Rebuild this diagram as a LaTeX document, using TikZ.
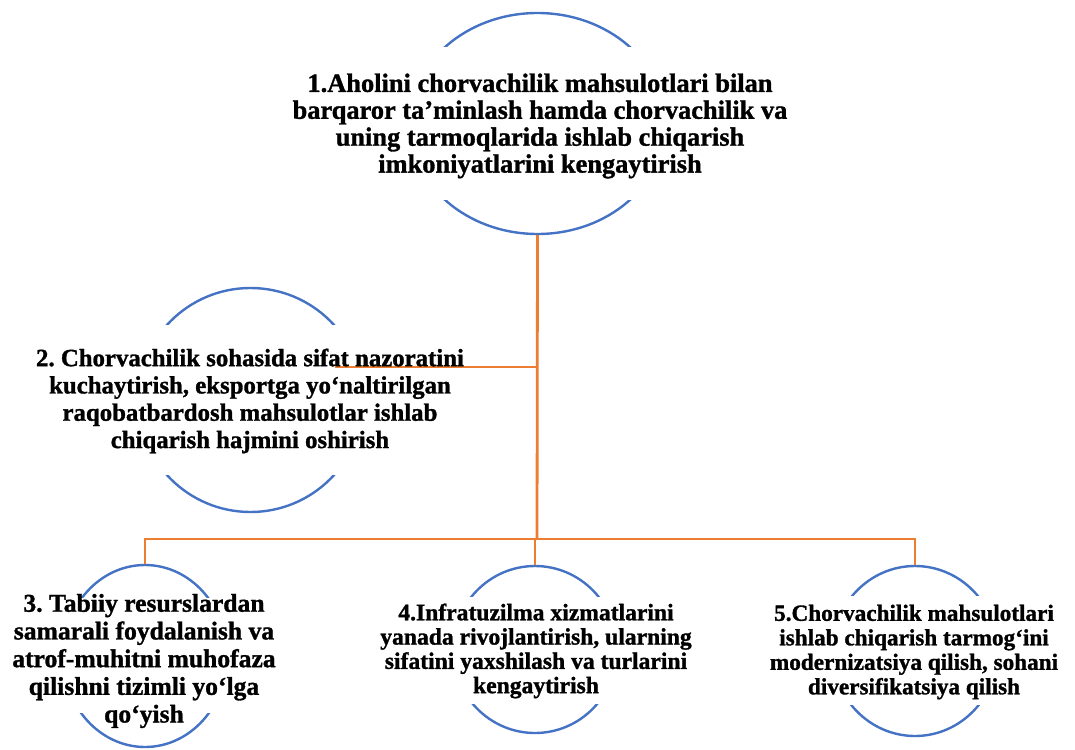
\documentclass[tikz,border=0pt]{standalone}
\usepackage{fontspec}
\setmainfont{Liberation Serif}[BoldFeatures={FakeBold=1.2}]
\usetikzlibrary{shapes.geometric}
\frenchspacing
\definecolor{wblue}{HTML}{4472C4}
\definecolor{worange}{HTML}{ED7D31}
\tikzset{
  ell/.style={ellipse, draw=wblue, line width=2.4pt, inner sep=0pt},
  cover/.style={fill=white, draw=none},
  conn/.style={draw=worange, line width=2.8pt},
  txt/.style={align=center, inner sep=0pt, font=\bfseries}
}
\begin{document}
\begin{tikzpicture}[x=1pt,y=-1pt]
\useasboundingbox (0,0) rectangle (1075,749);
% ellipses
\node[ell, minimum width=256pt, minimum height=221pt] (e1) at (537.5,123.5) {};
\node[ell, minimum width=225pt, minimum height=224pt] (e2) at (250.5,400) {};
\node[ell, minimum width=164pt, minimum height=182pt] (e3) at (145,656) {};
\node[ell, minimum width=164pt, minimum height=167pt] (e4) at (535,649.5) {};
\node[ell, minimum width=165pt, minimum height=170pt] (e5) at (915,651) {};
% white text areas hiding the ellipse sides
\path[cover] (280,47) rectangle (800,200);
\path[cover] (20,325) rectangle (480,475);
\path[cover] (40,598) rectangle (250,713);
\path[cover] (430,597) rectangle (640,704);
\path[cover] (810,596) rectangle (1020,705);
% connectors
\coordinate (j) at (537,539);
\coordinate (k) at (537,367);
\coordinate (c2) at (335,367);
\draw[conn] (e1.south) -- (j);
\draw[conn] (k) -- (c2);
\draw[conn] (e3.north) |- (j);
\draw[conn] (e5.north) |- (j);
\draw[conn] (e4.north) -- (e4.north |- j);
% texts
\node[txt, font=\bfseries\fontsize{26.4}{26.9}\selectfont] (t1) at (540,126)
  {1.Aholini chorvachilik mahsulotlari bilan\\barqaror ta’minlash hamda chorvachilik va\\uning tarmoqlarida ishlab chiqarish\\imkoniyatlarini kengaytirish};
\node[txt, font=\bfseries\fontsize{24.8}{27.3}\selectfont] (t2) at (250,401)
  {2. Chorvachilik sohasida sifat nazoratini\\kuchaytirish, eksportga yo‘naltirilgan\\raqobatbardosh mahsulotlar ishlab\\chiqarish hajmini oshirish};
\node[txt, font=\bfseries\fontsize{25.6}{27.7}\selectfont] (t3) at (144,661)
  {3. Tabiiy resurslardan\\samarali foydalanish va\\atrof-muhitni muhofaza\\qilishni tizimli yo‘lga\\qo‘yish};
\node[txt, font=\bfseries\fontsize{23.6}{24.3}\selectfont] (t4) at (536,651)
  {4.Infratuzilma xizmatlarini\\yanada rivojlantirish, ularning\\sifatini yaxshilash va turlarini\\kengaytirish};
\node[txt, font=\bfseries\fontsize{23.2}{24.5}\selectfont] (t5) at (914,652)
  {5.Chorvachilik mahsulotlari\\ishlab chiqarish tarmog‘ini\\modernizatsiya qilish, sohani\\diversifikatsiya qilish};
\end{tikzpicture}
\end{document}
